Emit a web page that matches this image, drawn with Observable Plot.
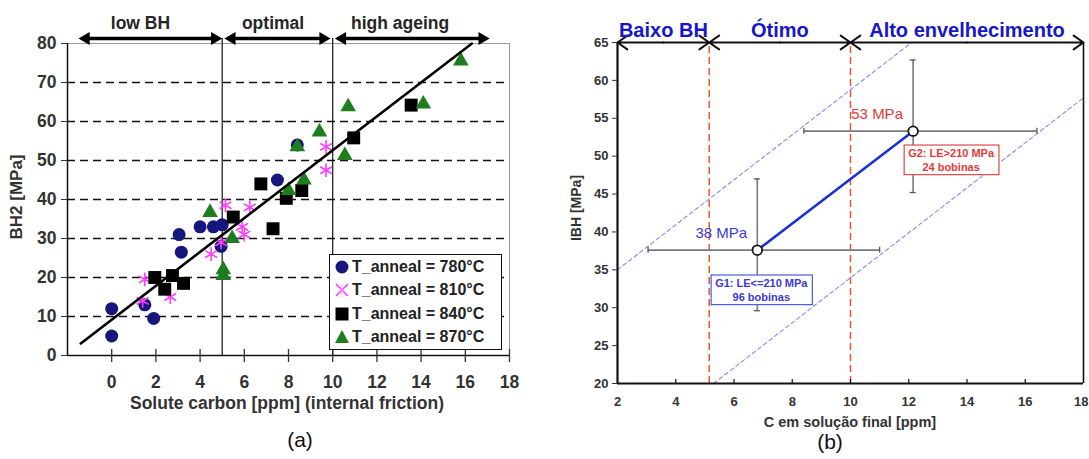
<!DOCTYPE html>
<html>
<head>
<meta charset="utf-8">
<script src="https://cdn.jsdelivr.net/npm/d3@7"></script>
<script src="https://cdn.jsdelivr.net/npm/@observablehq/plot@0.6"></script>
<style>
  body { margin: 0; background: #fff; }
  #fig { position: relative; width: 1089px; height: 459px; overflow: hidden; font-family: "Liberation Sans", Arial, sans-serif; }
  .panel { position: absolute; top: 0; }
  .lbl { position: absolute; white-space: nowrap; font-weight: bold; color: #333; transform: translate(-50%, -50%); }
  .rot { transform: translate(-50%, -50%) rotate(-90deg); }
  .cap { position: absolute; font-size: 21px; color: #111; transform: translate(-50%, -50%); }
  #legendA { position: absolute; left: 329px; top: 254px; width: 171px; height: 94px; border: 1.5px solid #111; background: #fff;
             font-size: 16px; font-weight: bold; color: #222; box-sizing: content-box; }
  #legendA .row { display: flex; align-items: center; height: 23.5px; padding-left: 3px; }
  #legendA svg { width: 18px; height: 18px; margin-right: 1px; }
</style>
</head>
<body>
<div id="fig"></div>
<script>
const FONT = '"Liberation Sans", Arial, sans-serif';

// ---------- (a) bake-hardening BH2 vs solute carbon, by annealing temperature ----------
const anneal780 = [[0, 5], [0, 12], [1.5, 13], [1.9, 9.5], [3.05, 31], [3.15, 26.5], [4.0, 33], [4.6, 33], [5.0, 33.5], [4.95, 28], [7.5, 45], [8.4, 54]];
const anneal810 = [[1.5, 19.5], [1.4, 14], [2.65, 15], [4.5, 26], [4.95, 29], [5.15, 38.5], [5.9, 33], [6.0, 31], [6.25, 38], [9.7, 53.5], [9.7, 47.5]];
const anneal840 = [[1.95, 20], [2.4, 17], [2.75, 20.5], [3.25, 18.5], [5.5, 35.5], [6.75, 44], [7.3, 32.5], [7.9, 40.3], [8.6, 42.3], [10.95, 55.8], [13.55, 64.2]];
const anneal870 = [[4.45, 36.7], [5.45, 30], [5.05, 22], [5.05, 20.5], [8.0, 42.3], [8.4, 53.5], [8.7, 45], [9.4, 57.3], [10.55, 51.3], [10.7, 63.8], [14.1, 64.5], [15.8, 75.5]];
const fitA = [[-1.4, 3.1], [16.3, 80]];
const legendA = ["T_anneal = 780°C", "T_anneal = 810°C", "T_anneal = 840°C", "T_anneal = 870°C"];
const zonesA = [
  {label: "low BH", x1: -1.5, x2: 5.0, labelX: 1.3},
  {label: "optimal", x1: 5.1, x2: 9.9, labelX: 7.3},
  {label: "high ageing", x1: 10.1, x2: 17.1, labelX: 13.05}
];
const zoneLimitsA = [5, 10];
const xTicksA = [0, 2, 4, 6, 8, 10, 12, 14, 16, 18];
const yTicksA = [0, 10, 20, 30, 40, 50, 60, 70, 80];
const gridA = [10, 20, 30, 40, 50, 60, 70];

// ---------- (b) IBH vs final solute carbon, two coil groups ----------
const groupNames = ["G1", "G2"];
const groupC = [6.8, 12.15];
const groupIBH = [37.6, 53.3];
const groupCRange = [[3.05, 11.0], [8.4, 16.4]];
const groupIBHRange = [[29.6, 47.0], [45.2, 62.7]];
const groupYield = ["LE<=210 MPa", "LE>210 MPa"];
const groupCoils = [96, 24];
const bandUpper = [[2, 35], [12.1, 65]];
const bandLower = [[5.3, 20], [18, 57.7]];
const zonesB = [
  {label: "Baixo BH", x1: 2, x2: 5.15},
  {label: "Ótimo", x1: 5.15, x2: 10},
  {label: "Alto envelhecimento", x1: 10, x2: 18}
];
const zoneLimitsB = [5.15, 10];
const xTicksB = [2, 4, 6, 8, 10, 12, 14, 16, 18];
const yTicksB = [20, 25, 30, 35, 40, 45, 50, 55, 60, 65];

const groups = groupNames.map((name, i) => ({
  name, c: groupC[i], ibh: groupIBH[i],
  cLo: groupCRange[i][0], cHi: groupCRange[i][1],
  ibhLo: groupIBHRange[i][0], ibhHi: groupIBHRange[i][1],
  note: `${name}: ${groupYield[i]}\n${groupCoils[i]} bobinas`
}));

// styling per group: colour and label offsets (px)
const groupStyle = {
  G1: {color: "#3a3ad2", box: "#4a5ae0", boxDx: 4, boxDy: 39},
  G2: {color: "#e23a3a", box: "#e04848", boxDx: 38, boxDy: 28}
};

const fig = document.getElementById("fig");
const X = d => d[0], Y = d => d[1];
const ARROW_Y_A = 81.3;   // level of the zone arrows just above the frame
const TOP_B = 65;

// ---------- panel (a) ----------
const plotA = Plot.plot({
  width: 525, height: 420,
  marginLeft: 67, marginRight: 16, marginTop: 43, marginBottom: 65,
  x: {domain: [-2, 18]},
  y: {domain: [0, 80]},
  style: {fontFamily: FONT, fontSize: "17.5px", fontWeight: "bold", color: "#333", background: "none"},
  marks: [
    Plot.ruleY(gridA, {stroke: "#111", strokeWidth: 1.3, strokeDasharray: "8,5"}),
    Plot.ruleY([80], {x1: -2, x2: 18, stroke: "#999"}),
    Plot.ruleX([18], {y1: 0, y2: 80, stroke: "#999"}),
    Plot.ruleX(zoneLimitsA, {y1: 0, y2: ARROW_Y_A, stroke: "#111", strokeWidth: 1.2}),
    Plot.dot(anneal780, {x: X, y: Y, symbol: "circle", r: 6.5, fill: "#16167c"}),
    Plot.dot(anneal810, {x: X, y: Y, symbol: "asterisk", r: 6.5, stroke: "#ff3cff", strokeWidth: 1.6}),
    Plot.dot(anneal840, {x: X, y: Y, symbol: "square", r: 7.3, fill: "#000"}),
    Plot.dot(anneal870, {x: X, y: Y, symbol: "triangle", r: 5.8, fill: "#1e7e1e"}),
    Plot.line(fitA, {x: X, y: Y, stroke: "#000", strokeWidth: 2.6}),
    Plot.ruleY([0], {x1: -2, x2: 18, stroke: "#111", strokeWidth: 1.5}),
    Plot.ruleX([-2], {y1: 0, y2: 80, stroke: "#111", strokeWidth: 1.5}),
    Plot.ruleX(xTicksA, {y1: 0, y2: 0, insetTop: -6, insetBottom: -7, stroke: "#333", strokeWidth: 1.3}),
    Plot.axisX(xTicksA, {tickSize: 0, tickPadding: 20, label: null}),
    Plot.axisY(yTicksA, {tickSize: 6, tickPadding: 5, label: null}),
    // zone arrows with filled heads
    Plot.ruleY(zonesA, {y: () => ARROW_Y_A, x1: "x1", x2: "x2", stroke: "#000", strokeWidth: 3.5, insetLeft: 6, insetRight: 6}),
    Plot.dot(zonesA, {x: "x1", y: () => ARROW_Y_A, symbol: "triangle", rotate: -90, r: 4.8, fill: "#000", dx: 7.4}),
    Plot.dot(zonesA, {x: "x2", y: () => ARROW_Y_A, symbol: "triangle", rotate: 90, r: 4.8, fill: "#000", dx: -7.4}),
    Plot.text(zonesA, {x: "labelX", y: () => ARROW_Y_A, text: "label", dy: -15, fontSize: 17.5, fill: "#262626"})
  ]
});
plotA.classList.add("panel");
plotA.style.left = "0px";
fig.appendChild(plotA);

// ---------- panel (b) ----------
const arrowSegsB = zonesB.flatMap(z => {
  const m = (z.x1 + z.x2) / 2;
  return [{x1: m, x2: z.x1}, {x1: m, x2: z.x2}];
});

const groupMarks = groups.flatMap(g => {
  const s = groupStyle[g.name];
  return [
    Plot.text([g], {x: "c", y: "ibh", text: d => `${Math.round(d.ibh)} MPa`, dx: -36, dy: -17,
                    fill: s.color, fontSize: 15, fontWeight: "normal"}),
    Plot.text([g], {x: "c", y: "ibh", text: "note", dx: s.boxDx, dy: s.boxDy, fill: s.color,
                    fontSize: 11, fontWeight: "bold", lineHeight: 1.33, ariaDescription: "note-" + g.name})
  ];
});

const lastTickB = xTicksB[xTicksB.length - 1];

const plotB = Plot.plot({
  width: 549, height: 430,
  marginLeft: 77, marginRight: 6, marginTop: 42, marginBottom: 47,
  x: {domain: [2, 18]},
  y: {domain: [20, 65]},
  style: {fontFamily: FONT, fontSize: "13px", fontWeight: "bold", color: "#333", background: "none"},
  marks: [
    Plot.ruleX(zoneLimitsB, {y1: 20, y2: TOP_B, stroke: "#e2592c", strokeWidth: 1.5, strokeDasharray: "7,4"}),
    Plot.line(bandUpper, {x: X, y: Y, stroke: "#8a8af2", strokeWidth: 1.1, strokeDasharray: "4,3"}),
    Plot.line(bandLower, {x: X, y: Y, stroke: "#8a8af2", strokeWidth: 1.1, strokeDasharray: "4,3"}),
    // error bars with caps
    Plot.ruleY(groups, {y: "ibh", x1: "cLo", x2: "cHi", stroke: "#7a7a7a", strokeWidth: 1.6}),
    Plot.ruleX(groups, {x: "c", y1: "ibhLo", y2: "ibhHi", stroke: "#7a7a7a", strokeWidth: 1.6}),
    Plot.ruleX(groups, {x: "cLo", y1: "ibh", y2: "ibh", insetTop: -3, insetBottom: -3, stroke: "#555", strokeWidth: 1.3}),
    Plot.ruleX(groups, {x: "cHi", y1: "ibh", y2: "ibh", insetTop: -3, insetBottom: -3, stroke: "#555", strokeWidth: 1.3}),
    Plot.ruleY(groups, {y: "ibhLo", x1: "c", x2: "c", insetLeft: -3, insetRight: -3, stroke: "#555", strokeWidth: 1.3}),
    Plot.ruleY(groups, {y: "ibhHi", x1: "c", x2: "c", insetLeft: -3, insetRight: -3, stroke: "#555", strokeWidth: 1.3}),
    Plot.line(groups, {x: "c", y: "ibh", stroke: "#1d2fd6", strokeWidth: 2.6}),
    Plot.dot(groups, {x: "c", y: "ibh", r: 4.8, fill: "#fff", stroke: "#151515", strokeWidth: 1.8}),
    ...groupMarks,
    // frame
    Plot.ruleX([2], {y1: 20, y2: TOP_B, stroke: "#111", strokeWidth: 2.2}),
    Plot.ruleX([18], {y1: 20, y2: TOP_B, stroke: "#111", strokeWidth: 1.6}),
    Plot.ruleY([20], {x1: 2, x2: 18, stroke: "#111", strokeWidth: 2.2}),
    Plot.ruleX(xTicksB.slice(1, -1), {y1: 20, y2: 20, insetTop: -4, insetBottom: 0, stroke: "#111", strokeWidth: 1.2}),
    Plot.axisX(xTicksB.slice(0, -1), {tickSize: 0, tickPadding: 13, label: null}),
    // the last tick label sits on the panel's right edge, so it is right-aligned to stay inside
    Plot.axisX([lastTickB], {tickSize: 0, tickPadding: 13, label: null, textAnchor: "end", dx: 5}),
    Plot.axisY(yTicksB, {tickSize: 5, tickPadding: 4, label: null}),
    // zone arrows with open heads
    Plot.arrow(arrowSegsB, {x1: "x1", x2: "x2", y1: () => TOP_B, y2: () => TOP_B, stroke: "#111", strokeWidth: 2, headLength: 9, headAngle: 70}),
    Plot.text(zonesB, {x: d => (d.x1 + d.x2) / 2, y: () => TOP_B, text: "label", dy: -12, fontSize: 20, fill: "#1717c9"})
  ]
});
plotB.classList.add("panel");
plotB.style.left = "540px";
fig.appendChild(plotB);

// framed notes: outline each multi-line group note with a box in its colour
groups.forEach(g => {
  const t = plotB.querySelector(`[aria-description="note-${g.name}"] text`);
  if (!t) return;
  const bb = t.getBBox();
  const r = document.createElementNS("http://www.w3.org/2000/svg", "rect");
  r.setAttribute("x", bb.x - 4);
  r.setAttribute("y", bb.y - 1.5);
  r.setAttribute("width", bb.width + 8);
  r.setAttribute("height", bb.height + 3);
  r.setAttribute("fill", "#fff");
  r.setAttribute("stroke", groupStyle[g.name].box);
  r.setAttribute("stroke-width", 1.2);
  if (t.getAttribute("transform")) r.setAttribute("transform", t.getAttribute("transform"));
  t.parentNode.insertBefore(r, t);
});

// ---------- HTML text: axis titles, legend, captions ----------
function addLabel(text, x, y, size, cls = "lbl") {
  const d = document.createElement("div");
  d.className = cls;
  d.textContent = text;
  d.style.left = x + "px";
  d.style.top = y + "px";
  d.style.fontSize = size + "px";
  fig.appendChild(d);
  return d;
}
addLabel("BH2 [MPa]", 17, 197, 17, "lbl rot");
addLabel("Solute carbon [ppm] (internal friction)", 287, 403, 17.5);
addLabel("IBH [MPa]", 576, 208, 14, "lbl rot");
addLabel("C em solução final [ppm]", 850, 422, 14.5);
addLabel("(a)", 300, 440, 21, "cap");
addLabel("(b)", 830, 442, 21, "cap");

const legendSymbols = [
  `<circle cx="9" cy="9" r="6.5" fill="#16167c"/>`,
  `<path d="M3 3L15 15M15 3L3 15" stroke="#ff3cff" stroke-width="1.6"/><path d="M9 2V16" stroke="#ffb0ff" stroke-width="1"/>`,
  `<rect x="2.5" y="2.5" width="13" height="13" fill="#000"/>`,
  `<path d="M9 2L16 15H2Z" fill="#1e7e1e"/>`
];
const leg = document.createElement("div");
leg.id = "legendA";
leg.innerHTML = legendA.map((t, i) =>
  `<div class="row"><svg viewBox="0 0 18 18">${legendSymbols[i]}</svg><span>${t}</span></div>`).join("");
fig.appendChild(leg);
</script>
</body>
</html>
